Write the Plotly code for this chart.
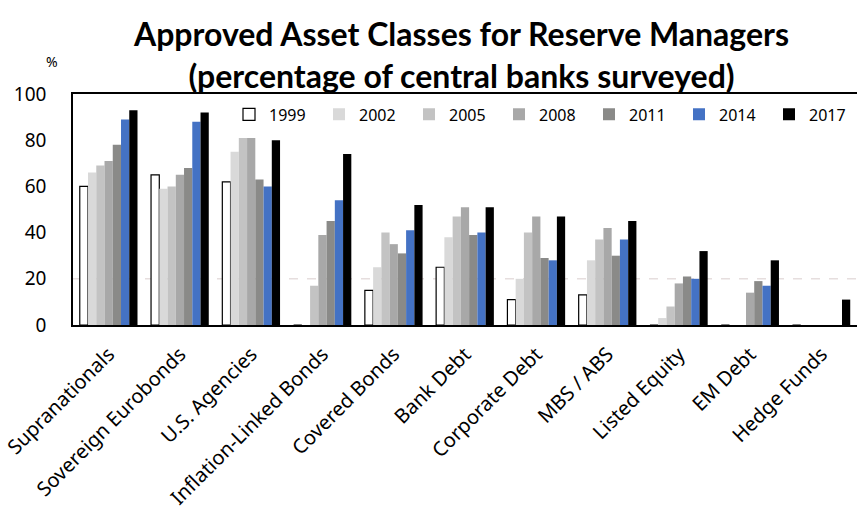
import plotly.graph_objects as go

categories = [
    "Supranationals", "Sovereign Eurobonds", "U.S. Agencies", "Inflation-Linked Bonds",
    "Covered Bonds", "Bank Debt", "Corporate Debt", "MBS / ABS", "Listed Equity",
    "EM Debt", "Hedge Funds",
]
years = ["1999", "2002", "2005", "2008", "2011", "2014", "2017"]

v1999 = [60, 65, 62, 0, 15, 25, 11, 13, 0, 0, 0]
v2002 = [66, 59, 75, 0, 25, 38, 20, 28, 3, 0, 0]
v2005 = [69, 60, 81, 17, 40, 47, 40, 37, 8, 0, 0]
v2008 = [71, 65, 81, 39, 35, 51, 47, 42, 18, 14, 0]
v2011 = [78, 68, 63, 45, 31, 39, 29, 30, 21, 19, 0]
v2014 = [89, 88, 60, 54, 41, 40, 28, 37, 20, 17, 0]
v2017 = [93, 92, 80, 74, 52, 51, 47, 45, 32, 28, 11]

title_text = ("Approved Asset Classes for Reserve Managers<br>"
              "(percentage of central banks surveyed)")

series = [v1999, v2002, v2005, v2008, v2011, v2014, v2017]
colors = ["#ffffff", "#d9d9d9", "#c3c3c3", "#a8a8a8", "#8a8a88", "#4472c4", "#000000"]
line_w = [1.2, 0, 0, 0, 0, 0, 0]

font_main = "Noto Sans"
L, T, B = 73, 94, 186
PW, PH = 857 - L, 511 - T - B


def px_to_paper(x, y):
    return (x - L) / PW, (511 - B - y) / PH


fig = go.Figure()
for yr, vals, col, lw in zip(years, series, colors, line_w):
    fig.add_trace(go.Bar(
        name=yr, x=categories, y=vals,
        marker=dict(color=col, line=dict(color="#000000", width=lw)),
    ))

fig.add_hline(y=20, line=dict(color="#e6dede", width=1.5, dash="dash"), layer="below")

tx, ty = px_to_paper(461, 54)
px_, py_ = px_to_paper(52, 61)
annotations = [
    dict(text=title_text, x=tx, y=ty, xref="paper", yref="paper", showarrow=False,
         xanchor="center", yanchor="middle", align="center",
         font=dict(family="Lato", size=32, color="#000000", weight="bold")),
    dict(text="%", x=px_, y=py_, xref="paper", yref="paper", showarrow=False,
         xanchor="center", yanchor="middle", font=dict(size=14)),
]

lx, _ = px_to_paper(229, 0)

fig.update_layout(
    width=857, height=511,
    margin=dict(l=L, r=0, t=T, b=B, autoexpand=False),
    paper_bgcolor="white", plot_bgcolor="white",
    barmode="group", bargap=0.19, bargroupgap=0,
    font=dict(family=font_main, color="#000000", size=16),
    showlegend=True,
    legend=dict(
        orientation="h", x=lx, xanchor="left", y=0.985, yanchor="top",
        font=dict(size=16), bgcolor="rgba(0,0,0,0)",
        entrywidth=45, entrywidthmode="pixels", itemwidth=30,
        traceorder="normal",
    ),
    xaxis=dict(
        tickangle=-45, tickfont=dict(size=20), showline=True, linecolor="#000000",
        linewidth=1.5, mirror=True, ticks="", ticklabelstandoff=8, automargin=False,
    ),
    yaxis=dict(
        range=[0, 100], tickvals=[0, 20, 40, 60, 80, 100], showgrid=False,
        showline=True, linecolor="#000000", linewidth=1.5, mirror=True,
        tickfont=dict(size=19), ticks="", ticklabelstandoff=21, zeroline=False,
        automargin=False,
    ),
    annotations=annotations,
)

fig.write_html("out.html")
